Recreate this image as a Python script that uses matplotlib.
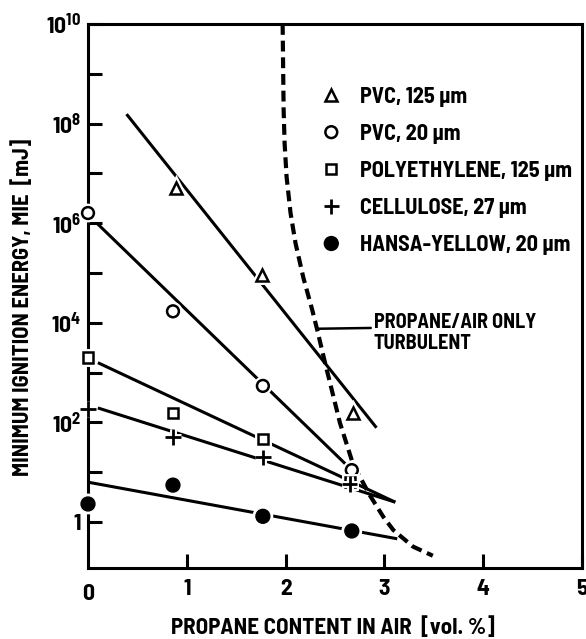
import numpy as np
import matplotlib
matplotlib.use('Agg')
import matplotlib.pyplot as plt
from matplotlib import font_manager
import matplotlib.patheffects as pe
from matplotlib.ticker import FixedLocator, FuncFormatter, NullLocator

# ---------------- data ----------------
pvc125_x = [0.89, 1.76, 2.68]
pvc125_y = [5.1e6, 9.1e4, 155]
pvc20_x = [0.0, 0.86, 1.77, 2.67]
pvc20_y = [1.6e6, 1.7e4, 540, 11]
poly_x = [0.0, 0.86, 1.77, 2.65]
poly_y = [2000, 155, 47, 6.3]
cell_x = [0.0, 0.86, 1.77, 2.65]
cell_y = [185, 51, 20, 5.8]
hansa_x = [0.0, 0.86, 1.77, 2.67]
hansa_y = [2.3, 5.5, 1.3, 0.66]

# fitted straight lines (end points)
pvc125_fit_x = [0.39, 2.92]
pvc125_fit_y = [1.55e8, 78]
pvc20_fit_x = [0.09, 2.67]
pvc20_fit_y = [1.0e6, 11]
poly_fit_x = [0.10, 3.11]
poly_fit_y = [1580, 2.5]
cell_fit_x = [0.10, 3.11]
cell_fit_y = [195, 2.5]
hansa_fit_x = [0.0, 3.13]
hansa_fit_y = [6.3, 0.46]

# propane/air only, turbulent (dashed curve)
turb_x = [1.97, 1.98, 1.99, 2.01, 2.05, 2.10, 2.18, 2.27, 2.32, 2.40, 2.55,
          2.68, 2.85, 2.99, 3.09, 3.29, 3.49]
turb_y = [1e10, 1.9e8, 4.0e7, 8.5e6, 1.6e6, 4.0e5, 8.0e4, 1.8e4, 7.2e3,
          1.55e3, 98, 15, 3.5, 1.26, 0.69, 0.32, 0.21]

labels = ['PVC, 125 µm', 'PVC, 20 µm', 'POLYETHYLENE, 125 µm',
          'CELLULOSE, 27 µm', 'HANSA-YELLOW, 20 µm']
xticks = [1, 2, 3, 4, 5]
xtick_labels = ['1', '2', '3', '4', '5']
ydecades = list(range(0, 11))

# ---------------- fonts ----------------
names = {f.name for f in font_manager.fontManager.ttflist}
fam = 'Barlow Semi Condensed' if 'Barlow Semi Condensed' in names else 'Roboto Condensed'

plt.rcParams['font.family'] = [fam, 'DejaVu Sans']
plt.rcParams['font.weight'] = 'bold'
plt.rcParams['axes.labelweight'] = 'bold'
pat = fam + ':bold'
plt.rcParams['mathtext.fontset'] = 'custom'
plt.rcParams['mathtext.rm'] = pat
plt.rcParams['mathtext.bf'] = pat
plt.rcParams['mathtext.it'] = pat

fig = plt.figure(figsize=(5.86, 6.39), dpi=100)
ax = fig.add_axes([88/586, 1-568/639, (582-88)/586, (568-24)/639])
ax.set_yscale('log')
ax.set_xlim(0, 5)
ax.set_ylim(10**-0.924, 1e10)

lw = 2.2
halo = [pe.Stroke(linewidth=5, foreground='white'), pe.Normal()]

for fx, fy in [(pvc125_fit_x, pvc125_fit_y), (pvc20_fit_x, pvc20_fit_y),
               (poly_fit_x, poly_fit_y), (cell_fit_x, cell_fit_y),
               (hansa_fit_x, hansa_fit_y)]:
    ax.plot(fx, fy, color='black', lw=lw, solid_capstyle='butt', zorder=2)

ax.plot(turb_x, turb_y, color='black', lw=3.0, ls=(0, (2.6, 1.4)), zorder=2)

ms = 8.5
h1, = ax.plot(pvc125_x, pvc125_y, ls='none', marker='^', ms=ms, mfc='white',
              mec='black', mew=1.8, zorder=5, clip_on=False, path_effects=halo)
h2, = ax.plot(pvc20_x, pvc20_y, ls='none', marker='o', ms=ms, mfc='white',
              mec='black', mew=1.8, zorder=5, clip_on=False, path_effects=halo)
h3, = ax.plot(poly_x, poly_y, ls='none', marker='s', ms=7.5, mfc='white',
              mec='black', mew=1.8, zorder=5, clip_on=False, path_effects=halo)
h4, = ax.plot(cell_x, cell_y, ls='none', marker='+', ms=11, mfc='white',
              mec='black', mew=2.0, zorder=5, clip_on=False, path_effects=halo)
h5, = ax.plot(hansa_x, hansa_y, ls='none', marker='o', ms=10, mfc='black',
              mec='black', mew=1.0, zorder=5, clip_on=False, path_effects=halo)

leg = ax.legend([h1, h2, h3, h4, h5], labels, loc='upper left',
                bbox_to_anchor=(0.47, 0.8845), frameon=False,
                handlelength=1.0, handletextpad=0.8, labelspacing=0.77,
                borderpad=0, borderaxespad=0, prop=dict(weight='bold', size=16))

# annotation
ax.annotate('PROPANE/AIR ONLY\nTURBULENT', xy=(2.31, 10**3.88),
            xytext=(2.89, 10**3.8), fontsize=14.5, fontweight='bold',
            va='center', ha='left', linespacing=1.15,
            arrowprops=dict(arrowstyle='-', color='black', lw=1.8,
                            shrinkA=0, shrinkB=0, relpos=(0, 0.62)))

# axes styling
for s in ['left', 'bottom', 'top', 'right']:
    ax.spines[s].set_linewidth(lw)
ax.yaxis.set_major_locator(FixedLocator([10.0**d for d in ydecades]))
ax.yaxis.set_minor_locator(NullLocator())

def yfmt(v, pos):
    d = int(round(np.log10(v)))
    if d % 2:
        return ''
    if d == 0:
        return '1'
    return r'$\mathbf{10^{%d}}$' % d

ax.yaxis.set_major_formatter(FuncFormatter(yfmt))
ax.set_xticks(xticks)
ax.set_xticklabels(xtick_labels)
ax.tick_params(axis='both', which='both', direction='in', length=10, width=lw,
               labelsize=17, top=False, right=False)
for t in ax.get_xticklabels() + ax.get_yticklabels():
    t.set_fontweight('bold')
ax.tick_params(axis='x', pad=8)
ax.tick_params(axis='y', pad=5)
ax.text(0, -0.029, '0', transform=ax.get_xaxis_transform(), ha='center',
        va='top', fontsize=17, fontweight='bold')

ax.set_xlabel('PROPANE CONTENT IN AIR  [vol. %]', fontsize=16.5)
ax.set_ylabel('MINIMUM IGNITION ENERGY, MIE  [mJ]', fontsize=16.2)
ax.xaxis.label.set_va('center')
ax.xaxis.set_label_coords(0.496, -0.108)
ax.yaxis.label.set_va('center')
ax.yaxis.set_label_coords(-0.134, 0.48)

fig.savefig('out.png', dpi=100)
